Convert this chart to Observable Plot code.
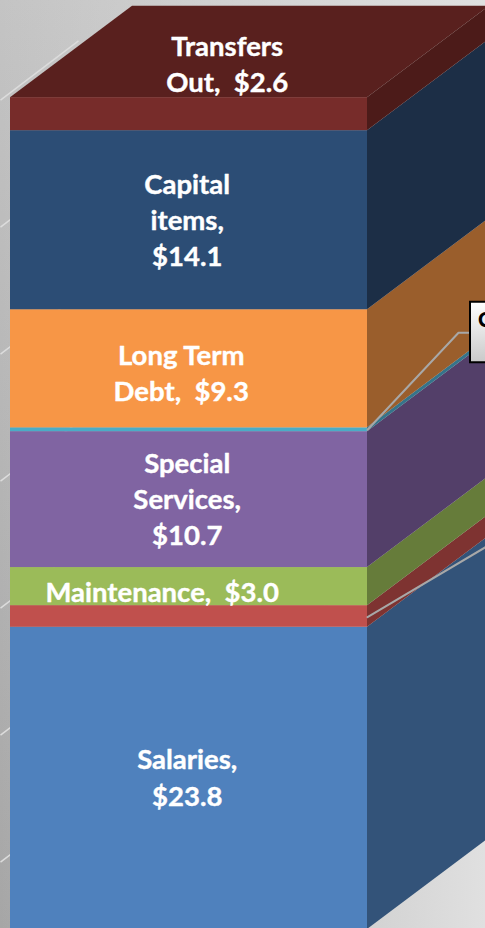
<!DOCTYPE html>
<html>
<head>
<meta charset="utf-8">
<script src="https://cdn.jsdelivr.net/npm/d3@7"></script>
<script src="https://cdn.jsdelivr.net/npm/@observablehq/plot@0.6"></script>
<style>
html,body{margin:0;padding:0;width:485px;height:928px;overflow:hidden;background:#c0c0c0}
svg{display:block}
</style>
</head>
<body>
<div id="chart"></div>
<script>
// Data (bottom to top of the stack)
const categories = ["Salaries", "Other A", "Maintenance", "Special Services", "Other B", "Long Term Debt", "Capital items", "Transfers Out"];
const values     = [23.8, 1.7, 3.0, 10.7, 0.3, 9.3, 14.1, 2.6];
const shownValues = [23.8, null, 3.0, 10.7, null, 9.3, 14.1, 2.6];
const labelTemplates = ["Salaries,\n{v}", null, "Maintenance,  {v}", "Special\nServices,\n{v}", null, "Long Term\nDebt,  {v}", "Capital\nitems,\n{v}", "Transfers\nOut,  {v}"];
const frontColors = ["#4f81bd", "#c0504d", "#9bbb59", "#8064a2", "#4bacc6", "#f79646", "#2c4d75", "#772c2a"];
const sideColors  = ["#335379", "#7e3331", "#667c3a", "#533f69", "#35748a", "#9a5e2c", "#1c2e46", "#4c1b19"];
const topColor = "#59201e";
const gridValues = [0, 10, 20, 30, 40, 50, 60];

// Layout of the pseudo-3D column, in scale units
const W = 485, H = 928, yZeroPx = 929;
const pxPerValue = 12.7, pxPerWidth = 357, leftPx = 10;
const depthX = 122 / pxPerWidth, depthY = 91.5 / pxPerValue;
const xDomain = [-leftPx / pxPerWidth, (W - leftPx) / pxPerWidth];
const yDomain = [0, yZeroPx / pxPerValue];

let acc = 0;
const segments = categories.map((name, i) => {
  const s = {name, i, y1: acc, y2: acc + values[i], front: frontColors[i], side: sideColors[i]};
  acc += values[i];
  return s;
});
const total = acc;

const sidePoints = segments.flatMap(s => [
  {name: s.name, x: 1, y1: s.y1, y2: s.y2, fill: s.side},
  {name: s.name, x: 1 + depthX, y1: s.y1 + depthY, y2: s.y2 + depthY, fill: s.side}
]);
const topPoints = [
  {x: 0, y1: total, y2: total},
  {x: depthX, y1: total, y2: total + depthY},
  {x: 1, y1: total, y2: total + depthY},
  {x: 1 + depthX, y1: total + depthY, y2: total + depthY}
];

// Side-wall gridlines of the chart behind the column
const wallOffset = 5.3, wallEnd = 68 / pxPerWidth;
const grid = gridValues.map(v => ({
  x1: xDomain[0], y1: v + wallOffset,
  x2: wallEnd, y2: v + wallOffset + (wallEnd - xDomain[0]) * pxPerWidth * 0.76 / pxPerValue
}));

// Data labels
const labelDx = [-1.5, 0, -26.5, -1.5, 0, -7.5, -1.5, 38.5];      // px from column centre
const labelDy = [-2.4, 0, 3.5, -2.5, 0, 2.8, -1.7, -51.2];        // px from segment centre
const labels = segments
  .filter(s => labelTemplates[s.i])
  .map(s => ({
    text: labelTemplates[s.i].replace("{v}", "$" + shownValues[s.i].toFixed(1)),
    x: 0.4992 + labelDx[s.i] / pxPerWidth,
    y: (s.y1 + s.y2) / 2 - labelDy[s.i] / pxPerValue
  }));

// Leader lines and the callout that is cut off by the right edge
const other = segments[1], teal = segments[4];
const leaderRed = [
  {x: 1, y: (other.y1 + other.y2) / 2 - 0.05},
  {x: 1 + 118 / pxPerWidth, y: (other.y1 + other.y2) / 2 + 5.45}
];
const calloutMid = (teal.y1 + teal.y2) / 2;
const leaderTeal = [
  {x: 1, y: calloutMid},
  {x: 1 + 91 / pxPerWidth, y: calloutMid + 97 / pxPerValue},
  {x: 1 + 103 / pxPerWidth, y: calloutMid + 97 / pxPerValue}
];
const callout = [{
  x1: 1 + 103 / pxPerWidth, x2: 1 + 130 / pxPerWidth,
  y1: calloutMid + 67 / pxPerValue, y2: calloutMid + 127.5 / pxPerValue
}];
const calloutText = [{text: "C", x: 1 + 110.5 / pxPerWidth, y: calloutMid + 109 / pxPerValue}];

const chart = Plot.plot({
  width: W,
  height: H,
  margin: 0,
  x: {domain: xDomain, range: [0, W], axis: null},
  y: {domain: yDomain, range: [yZeroPx, 0], axis: null},
  color: {type: "identity"},
  style: {
    background: "linear-gradient(to right, rgba(226,226,226,0) 0%, #e0e0e0 100%), linear-gradient(#c4c4c4, #a6a6a6)",
    fontFamily: "Lato, sans-serif"
  },
  marks: [
    Plot.link(grid, {x1: "x1", y1: "y1", x2: "x2", y2: "y2", stroke: "#dcdcdc", strokeWidth: 1.5}),
    Plot.area(topPoints, {x1: "x", y1: "y1", y2: "y2", fill: topColor}),
    Plot.area(sidePoints, {x1: "x", y1: "y1", y2: "y2", z: "name", fill: "fill"}),
    Plot.rect(segments, {x1: 0, x2: 1, y1: "y1", y2: "y2", fill: "front", inset: 0}),
    Plot.line(leaderRed, {x: "x", y: "y", stroke: "#a8a8a8", strokeWidth: 2}),
    Plot.line(leaderTeal, {x: "x", y: "y", stroke: "#a8a8a8", strokeWidth: 2}),
    Plot.rect(callout, {x1: "x1", x2: "x2", y1: "y1", y2: "y2", fill: "url(#calloutFill)", stroke: "#000", strokeWidth: 2}),
    Plot.text(calloutText, {x: "x", y: "y", text: "text", fill: "#000", fontSize: 21, fontWeight: 900, textAnchor: "start"}),
    Plot.text(labels, {x: "x", y: "y", text: "text", fill: "#fff", stroke: "#fff", strokeWidth: 0.4, fontSize: 27.5, fontWeight: 700, lineHeight: 1.31, lineAnchor: "middle"})
  ]
});

const defs = d3.select(chart).insert("defs", ":first-child");
const g = defs.append("linearGradient").attr("id", "calloutFill").attr("x1", 0).attr("y1", 0).attr("x2", 0).attr("y2", 1);
g.append("stop").attr("offset", "0%").attr("stop-color", "#ffffff");
g.append("stop").attr("offset", "100%").attr("stop-color", "#c9c9c9");

document.getElementById("chart").appendChild(chart);
</script>
</body>
</html>
